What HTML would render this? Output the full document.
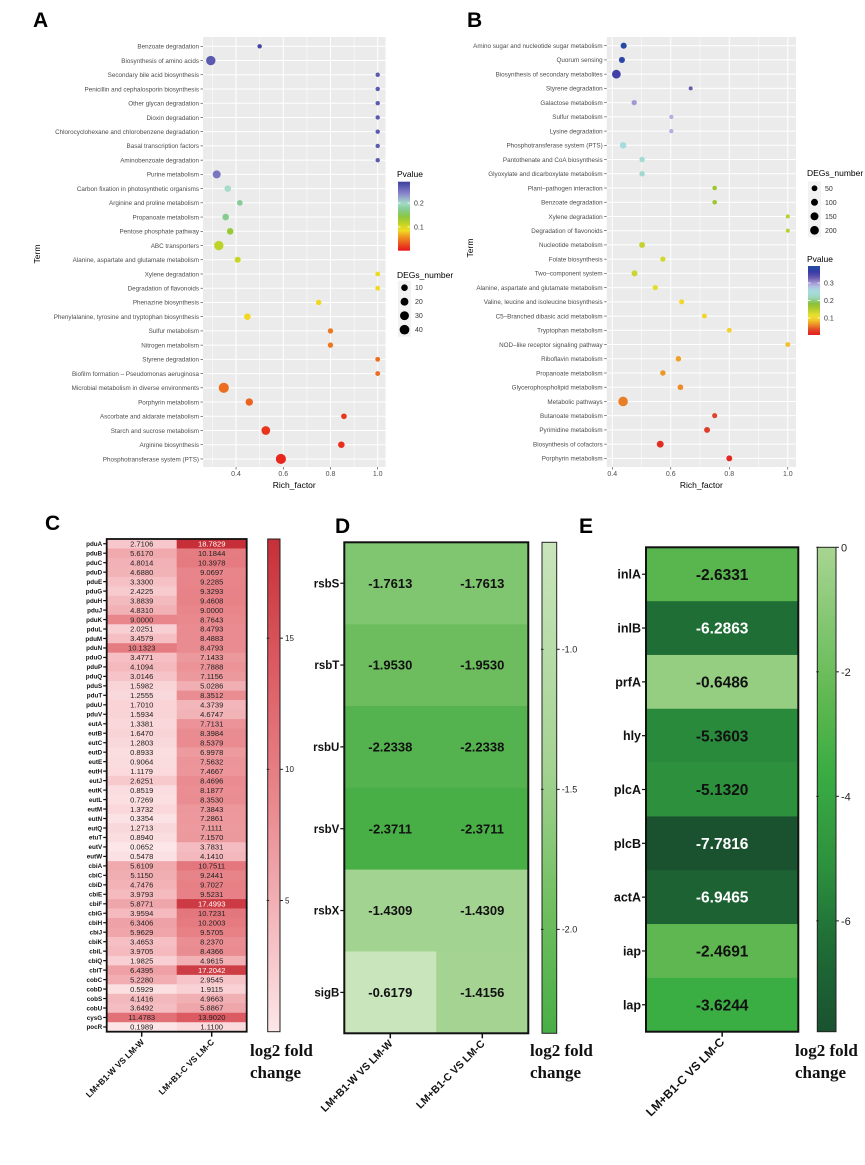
<!DOCTYPE html>
<html><head><meta charset="utf-8"><style>
html,body{margin:0;padding:0;background:#fff;}
svg{display:block;font-family:"Liberation Sans",sans-serif;}
</style></head><body>
<svg id="fig" width="865" height="1165" viewBox="0 0 865 1165" xmlns="http://www.w3.org/2000/svg"></svg>
<script>
// ---- Panel A data ----
const termsA=["Benzoate degradation","Biosynthesis of amino acids","Secondary bile acid biosynthesis","Penicillin and cephalosporin biosynthesis","Other glycan degradation","Dioxin degradation","Chlorocyclohexane and chlorobenzene degradation","Basal transcription factors","Aminobenzoate degradation","Purine metabolism","Carbon fixation in photosynthetic organisms","Arginine and proline metabolism","Propanoate metabolism","Pentose phosphate pathway","ABC transporters","Alanine, aspartate and glutamate metabolism","Xylene degradation","Degradation of flavonoids","Phenazine biosynthesis","Phenylalanine, tyrosine and tryptophan biosynthesis","Sulfur metabolism","Nitrogen metabolism","Styrene degradation","Biofilm formation \u2013 Pseudomonas aeruginosa","Microbial metabolism in diverse environments","Porphyrin metabolism","Ascorbate and aldarate metabolism","Starch and sucrose metabolism","Arginine biosynthesis","Phosphotransferase system (PTS)"];
const richA=[0.50,0.293,1,1,1,1,1,1,1,0.318,0.365,0.416,0.356,0.375,0.327,0.407,1,1,0.75,0.448,0.8,0.8,1,1,0.348,0.456,0.857,0.526,0.846,0.59];
const countA=[1,36,1,1,1,1,1,1,1,21,10,5,10,10,36,7,2,2,4,10,4,4,2,2,45,16,5,28,10,45];
const pA=[0.285,0.27,0.27,0.27,0.27,0.27,0.27,0.27,0.27,0.25,0.2,0.175,0.17,0.135,0.115,0.11,0.088,0.088,0.083,0.083,0.045,0.045,0.04,0.04,0.04,0.036,0.015,0.015,0.012,0.008];
const ticksA=[0.4,0.6,0.8,1.0];
const sizeLegA=[10,20,30,40];
const pTicksA=[0.2,0.1];
// ---- Panel B data ----
const termsB=["Amino sugar and nucleotide sugar metabolism","Quorum sensing","Biosynthesis of secondary metabolites","Styrene degradation","Galactose metabolism","Sulfur metabolism","Lysine degradation","Phosphotransferase system (PTS)","Pantothenate and CoA biosynthesis","Glyoxylate and dicarboxylate metabolism","Plant\u2013pathogen interaction","Benzoate degradation","Xylene degradation","Degradation of flavonoids","Nucleotide metabolism","Folate biosynthesis","Two\u2013component system","Alanine, aspartate and glutamate metabolism","Valine, leucine and isoleucine biosynthesis","C5\u2013Branched dibasic acid metabolism","Tryptophan metabolism","NOD\u2013like receptor signaling pathway","Riboflavin metabolism","Propanoate metabolism","Glycerophospholipid metabolism","Metabolic pathways","Butanoate metabolism","Pyrimidine metabolism","Biosynthesis of cofactors","Porphyrin metabolism"];
const richB=[0.439,0.433,0.414,0.668,0.475,0.602,0.602,0.437,0.502,0.502,0.75,0.75,1,1,0.502,0.573,0.476,0.547,0.637,0.715,0.8,1,0.626,0.573,0.633,0.437,0.75,0.724,0.564,0.8];
const countB=[60,60,200,8,35,12,12,80,40,40,18,18,10,10,55,35,55,35,30,25,25,25,40,40,45,260,30,55,95,55];
const pB=[0.39,0.38,0.355,0.33,0.3,0.29,0.29,0.255,0.235,0.23,0.165,0.165,0.145,0.145,0.14,0.13,0.135,0.12,0.1,0.097,0.095,0.085,0.07,0.066,0.06,0.055,0.03,0.025,0.015,0.01];
const ticksB=[0.4,0.6,0.8,1.0];
const sizeLegB=[50,100,150,200];
const pTicksB=[0.3,0.2,0.1];
// ---- Panel C data ----
const genesC=["pduA","pduB","pduC","pduD","pduE","pduG","pduH","pduJ","pduK","pduL","pduM","pduN","pduO","pduP","pduQ","pduS","pduT","pduU","pduV","eutA","eutB","eutC","eutD","eutE","eutH","eutJ","eutK","eutL","eutM","eutN","eutQ","etuT","eutV","eutW","cbiA","cbiC","cbiD","cbiE","cbiF","cbiG","cbiH","cbiJ","cbiK","cbiL","cbiQ","cbiT","cobC","cobD","cobS","cobU","cysG","pocR"];
const cW=[2.7106,5.6170,4.8014,4.6880,3.3300,2.4225,3.8839,4.8310,9.0000,2.0251,3.4579,10.1323,3.4771,4.1094,3.0146,1.5982,1.2555,1.7010,1.5934,1.3381,1.6470,1.2803,0.8933,0.9064,1.1179,2.6251,0.8519,0.7269,1.3732,0.3354,1.2713,0.8940,0.0652,0.5478,5.6109,5.1150,4.7476,3.9793,5.8771,3.9594,6.3406,5.9629,3.4653,3.9705,1.9825,6.4395,5.2280,0.5929,4.1416,3.6492,11.4783,0.1989];
const cC=[18.7829,10.1844,10.3978,9.0697,9.2285,9.3293,9.4608,9.0000,8.7643,8.4793,8.4883,8.4793,7.1433,7.7888,7.1156,5.0286,8.3512,4.3739,4.6747,7.7131,8.3984,8.5379,6.9978,7.5632,7.4667,8.4696,8.1877,8.3530,7.3843,7.2861,7.1111,7.1570,3.7831,4.1410,10.7511,9.2441,9.7027,9.5231,17.4993,10.7231,10.2003,9.5705,8.2370,8.4366,4.9615,17.2042,2.9545,1.9115,4.9663,5.8867,13.9020,1.1100];
const colsC=["LM+B1-W VS LM-W","LM+B1-C VS LM-C"];
const barTicksC=[15,10,5];
// ---- Panel D data ----
const genesD=["rsbS","rsbT","rsbU","rsbV","rsbX","sigB"];
const dW=[-1.7613,-1.9530,-2.2338,-2.3711,-1.4309,-0.6179];
const dC=[-1.7613,-1.9530,-2.2338,-2.3711,-1.4309,-1.4156];
const colsD=["LM+B1-W VS LM-W","LM+B1-C VS LM-C"];
const barTicksD=[-1.0,-1.5,-2.0];
// ---- Panel E data ----
const genesE=["inlA","inlB","prfA","hly","plcA","plcB","actA","iap","lap"];
const eC=[-2.6331,-6.2863,-0.6486,-5.3603,-5.1320,-7.7816,-6.9465,-2.4691,-3.6244];
const colsE=["LM+B1-C VS LM-C"];
const barTicksE=[0,-2,-4,-6];

const NS="http://www.w3.org/2000/svg";
const svg=document.getElementById("fig");
function el(tag,attrs,parent){const e=document.createElementNS(NS,tag);for(const k in attrs)e.setAttribute(k,attrs[k]);(parent||svg).appendChild(e);return e;}
function tx(str,attrs,parent){const e=el("text",attrs,parent);e.textContent=str;return e;}
function hex(h){return [parseInt(h.slice(1,3),16),parseInt(h.slice(3,5),16),parseInt(h.slice(5,7),16)];}
function interp(stops,v){
  if(v<=stops[0][0])return stops[0][1];
  for(let i=1;i<stops.length;i++){if(v<=stops[i][0]){const a=stops[i-1],b=stops[i];const t=(v-a[0])/(b[0]-a[0]);const ca=hex(a[1]),cb=hex(b[1]);return "rgb("+ca.map((c,j)=>Math.round(c+(cb[j]-c)*t)).join(",")+")";}}
  return stops[stops.length-1][1];
}
const defs=el("defs",{});
function gradient(id,stops,vTop,vBot){
  const g=el("linearGradient",{id:id,x1:0,y1:0,x2:0,y2:1},defs);
  for(let i=0;i<=24;i++){const v=vTop+(vBot-vTop)*i/24;el("stop",{offset:(i/24),"stop-color":interp(stops,v)},g);}
}
const stopsPA=[[0,"#e8141c"],[0.03,"#ea561e"],[0.06,"#f09a22"],[0.085,"#f2dc22"],[0.11,"#c8d622"],[0.14,"#8ec63a"],[0.175,"#84cc98"],[0.2,"#a6dcc8"],[0.24,"#8a84cc"],[0.29,"#3a3f9c"]];
const stopsPB=[[0,"#e41a1c"],[0.03,"#e2402a"],[0.06,"#ec8a26"],[0.09,"#f2cc2a"],[0.11,"#f0e430"],[0.15,"#b4cc2c"],[0.18,"#86c036"],[0.22,"#a0d8c8"],[0.26,"#a8dce0"],[0.29,"#b4ace0"],[0.33,"#6a5aae"],[0.36,"#3a3aa8"],[0.4,"#1f4fa0"]];

function letter(s,x,y){const t=tx(s,{x:x,y:y,"font-size":21,"font-weight":"bold",fill:"#000"});}

function bubble(cfg,terms,rich,count,pv,ticks,rfn,stops,name){
  const g=el("g",{});
  
  
  const sx=v=>cfg.x0+(v-cfg.d0)/(cfg.d1-cfg.d0)*(cfg.x1-cfg.x0);
  const sy=i=>cfg.yFirst+i*cfg.step;
  const bg=el("rect",{x:cfg.x0,y:cfg.y0,width:cfg.x1-cfg.x0,height:cfg.y1-cfg.y0,fill:"#ebebeb"},g);
  
  
  for(let i=0;i<ticks.length;i++){
    const mv=ticks[i]-0.1;const mx=sx(mv);
    if(mx>cfg.x0)el("line",{x1:mx,x2:mx,y1:cfg.y0,y2:cfg.y1,stroke:"#fff","stroke-width":0.5},g);
    if(i==ticks.length-1&&sx(ticks[i]+0.1)<cfg.x1)el("line",{x1:sx(ticks[i]+0.1),x2:sx(ticks[i]+0.1),y1:cfg.y0,y2:cfg.y1,stroke:"#fff","stroke-width":0.5},g);
  }
  for(let i=0;i<ticks.length;i++){
    const x=sx(ticks[i]);
    el("line",{x1:x,x2:x,y1:cfg.y0,y2:cfg.y1,stroke:"#fff","stroke-width":1},g);
    el("line",{x1:x,x2:x,y1:cfg.y1,y2:cfg.y1+2.5,stroke:"#333","stroke-width":0.6},g);
    const t=tx(ticks[i].toFixed(1),{x:x,y:cfg.y1+9,"font-size":7,fill:"#4d4d4d","text-anchor":"middle"},g);
    
    
  }
  for(let i=0;i<terms.length;i++){
    const y=sy(i);
    el("line",{x1:cfg.x0,x2:cfg.x1,y1:y,y2:y,stroke:"#fff","stroke-width":1},g);
    el("line",{x1:cfg.x0-2.5,x2:cfg.x0,y1:y,y2:y,stroke:"#333","stroke-width":0.6},g);
    const t=tx(terms[i],{x:cfg.x0-4,y:y+2.3,"font-size":6.3,fill:"#4d4d4d","text-anchor":"end"},g);
    
    
  }
  for(let i=0;i<terms.length;i++){
    const c=el("circle",{cx:sx(rich[i]),cy:sy(i),r:rfn(count[i]),fill:interp(stops,pv[i])},g);
    
    
  }
  const xl=tx("Rich_factor",{x:(cfg.x0+cfg.x1)/2,y:cfg.y1+21,"font-size":8.5,fill:"#000","text-anchor":"middle"},g);
  
  
  const yl=tx("Term",{x:0,y:0,"font-size":8.5,fill:"#000","text-anchor":"middle",transform:"translate("+cfg.termX+","+cfg.termY+") rotate(-90)"},g);
  
  
}
const rA=n=>1.7+0.5*Math.sqrt(n);
const rB=n=>1.4+0.21*Math.sqrt(n);
letter("A",33,27);letter("B",467,27);
bubble({x0:203,x1:385.5,d0:0.26,d1:1.033,y0:37,y1:467,yFirst:46.3,step:14.23,termX:40,termY:254},termsA,richA,countA,pA,ticksA,rA,stopsPA,"panel-a");
bubble({x0:606.7,x1:796,d0:0.381,d1:1.028,y0:37,y1:467,yFirst:45.7,step:14.23,termX:473,termY:248},termsB,richB,countB,pB,ticksB,rB,stopsPB,"panel-b");

function pLegend(x,yTitle,yTop,yBot,pTop,pBot,ticks,stops,id,name){
  const t=tx("Pvalue",{x:x-1,y:yTitle,"font-size":8.5,fill:"#000"});
  
  
  gradient(id,stops,pTop,pBot);
  const r=el("rect",{x:x,y:yTop,width:12,height:yBot-yTop,fill:"url(#"+id+")"});
  
  
  for(const v of ticks){
    const y=yTop+(pTop-v)/(pTop-pBot)*(yBot-yTop);
    el("line",{x1:x,x2:x+2.5,y1:y,y2:y,stroke:"#fff","stroke-width":0.8});
    el("line",{x1:x+9.5,x2:x+12,y1:y,y2:y,stroke:"#fff","stroke-width":0.8});
    const l=tx(v.toFixed(1),{x:x+16,y:y+2.5,"font-size":7,fill:"#333"});
    
    
  }
}
function sLegend(x,yTitle,yFirst,vals,rfn,name){
  const t=tx("DEGs_number",{x:x-1,y:yTitle,"font-size":8.5,fill:"#000"});
  
  
  for(let i=0;i<vals.length;i++){
    const y=yFirst+i*14;
    el("rect",{x:x,y:y-7,width:13,height:14,fill:"#f2f2f2"});
    const c=el("circle",{cx:x+6.5,cy:y,r:rfn(vals[i]),fill:"#000"});
    
    
    const l=tx(String(vals[i]),{x:x+17,y:y+2.5,"font-size":7,fill:"#333"});
    
    
  }
}
pLegend(398,177,181.7,250.7,0.29,0,pTicksA,stopsPA,"gA","panel-a");
sLegend(398,278,287.7,sizeLegA,rA,"panel-a");
sLegend(808,176,188.3,sizeLegB,rB,"panel-b");
pLegend(808,262,266,335,0.397,0.003,pTicksB,stopsPB,"gB","panel-b");

function heat(cfg,genes,cols,series,stops,barTicks,textFn,name){
  const nR=genes.length,nC=cols.length;
  const cw=(cfg.x1-cfg.x0)/nC,rh=(cfg.y1-cfg.y0)/nR;
  const g=el("g",{});
  
  
  for(let c=0;c<nC;c++)for(let r=0;r<nR;r++){
    const v=series[c][r];
    const rc=el("rect",{x:cfg.x0+c*cw,y:cfg.y0+r*rh,width:cw+0.3,height:rh+0.3,fill:interp(stops,v)},g);
    
    
    const t=tx(v.toFixed(4),{x:cfg.x0+(c+0.5)*cw,y:cfg.y0+(r+0.5)*rh+cfg.fs*0.36,"font-size":cfg.fs,"font-weight":cfg.fw,fill:textFn(v),"text-anchor":"middle"},g);
    
    
  }
  el("rect",{x:cfg.x0,y:cfg.y0,width:cfg.x1-cfg.x0,height:cfg.y1-cfg.y0,fill:"none",stroke:"#111","stroke-width":cfg.bw},g);
  for(let r=0;r<nR;r++){
    const y=cfg.y0+(r+0.5)*rh;
    el("line",{x1:cfg.x0-cfg.tk,x2:cfg.x0,y1:y,y2:y,stroke:"#111","stroke-width":1.2},g);
    const t=tx(genes[r],{x:cfg.x0-cfg.tk-1,y:y+cfg.gfs*0.36,"font-size":cfg.gfs,"font-weight":"bold",fill:"#111","text-anchor":"end"},g);
    
    
  }
  for(let c=0;c<nC;c++){
    const x=cfg.x0+(c+0.5)*cw;
    el("line",{x1:x,x2:x,y1:cfg.y1,y2:cfg.y1+5,stroke:"#111","stroke-width":1.5},g);
    const t=tx(cols[c],{x:0,y:0,"font-size":cfg.cfs,"font-weight":"bold",fill:"#111","text-anchor":"end",transform:"translate("+(x+3)+","+(cfg.y1+11)+") rotate(-45)"},g);
    
    
  }
  // colorbar
  const id="grad-"+name;
  gradient(id,stops,cfg.vTop,cfg.vBot);
  const b=el("rect",{x:cfg.bx,y:cfg.y0,width:cfg.bwid,height:cfg.y1-cfg.y0,fill:"url(#"+id+")",stroke:"#222","stroke-width":1},g);
  
  
  for(const v of barTicks){
    const y=cfg.y0+(cfg.vTop-v)/(cfg.vTop-cfg.vBot)*(cfg.y1-cfg.y0);
    el("line",{x1:cfg.bx-1,x2:cfg.bx+1.5,y1:y,y2:y,stroke:"#222","stroke-width":1},g);
    el("line",{x1:cfg.bx+cfg.bwid,x2:cfg.bx+cfg.bwid+3,y1:y,y2:y,stroke:"#222","stroke-width":1},g);
    const l=tx(cfg.tfmt(v),{x:cfg.bx+cfg.bwid+5,y:y+cfg.tfs*0.36,"font-size":cfg.tfs,fill:"#222"},g);
    
    
  }
  const t1=tx("log2 fold",{x:cfg.lx,y:1056,"font-size":17,"font-weight":"bold","font-family":"Liberation Serif, serif",fill:"#111"},g);
  
  
  const t2=tx("change",{x:cfg.lx,y:1078,"font-size":17,"font-weight":"bold","font-family":"Liberation Serif, serif",fill:"#111"},g);
  
  
}
letter("C",45,530);letter("D",335,533);letter("E",579,533);
heat({x0:106.7,x1:246.7,y0:539,y1:1031.7,fs:7.6,fw:"normal",gfs:6.3,tk:3.5,cfs:8.5,bw:1.8,bx:267.7,bwid:12.3,vTop:18.78,vBot:0,tfmt:v=>String(v),tfs:8,lx:250},
  genesC,colsC,[cW,cC],[[0,"#fce7e9"],[3,"#f6c4c8"],[9,"#e8868b"],[14,"#dc5a62"],[18.78,"#c62f37"]],barTicksC,v=>v>16?"#fff":"#222","panel-c");
heat({x0:344.3,x1:528.3,y0:542.3,y1:1033.3,fs:13,fw:"bold",gfs:11.5,tk:4,cfs:10.5,bw:2,bx:542,bwid:14.7,vTop:-0.618,vBot:-2.371,tfmt:v=>v.toFixed(1),tfs:9,lx:530},
  genesD,colsD,[dW,dC],[[-2.371,"#48ae46"],[-1.9,"#72bf62"],[-1.4,"#a6d494"],[-0.618,"#c8e5bb"]],barTicksD,v=>"#111","panel-d");
heat({x0:646,x1:798.3,y0:547.3,y1:1031.7,fs:15.5,fw:"bold",gfs:12.5,tk:4,cfs:12,bw:2,bx:817.3,bwid:18.7,vTop:0,vBot:-7.78,tfmt:v=>String(v),tfs:11,lx:795},
  genesE,colsE,[eC],[[-7.78,"#1a5230"],[-6.3,"#1f6e36"],[-5.2,"#2c8f3d"],[-3.6,"#3aad43"],[-2.5,"#5db74f"],[0,"#a8d592"]],barTicksE,v=>v<-6?"#fff":"#111","panel-e");
</script>
</body></html>
